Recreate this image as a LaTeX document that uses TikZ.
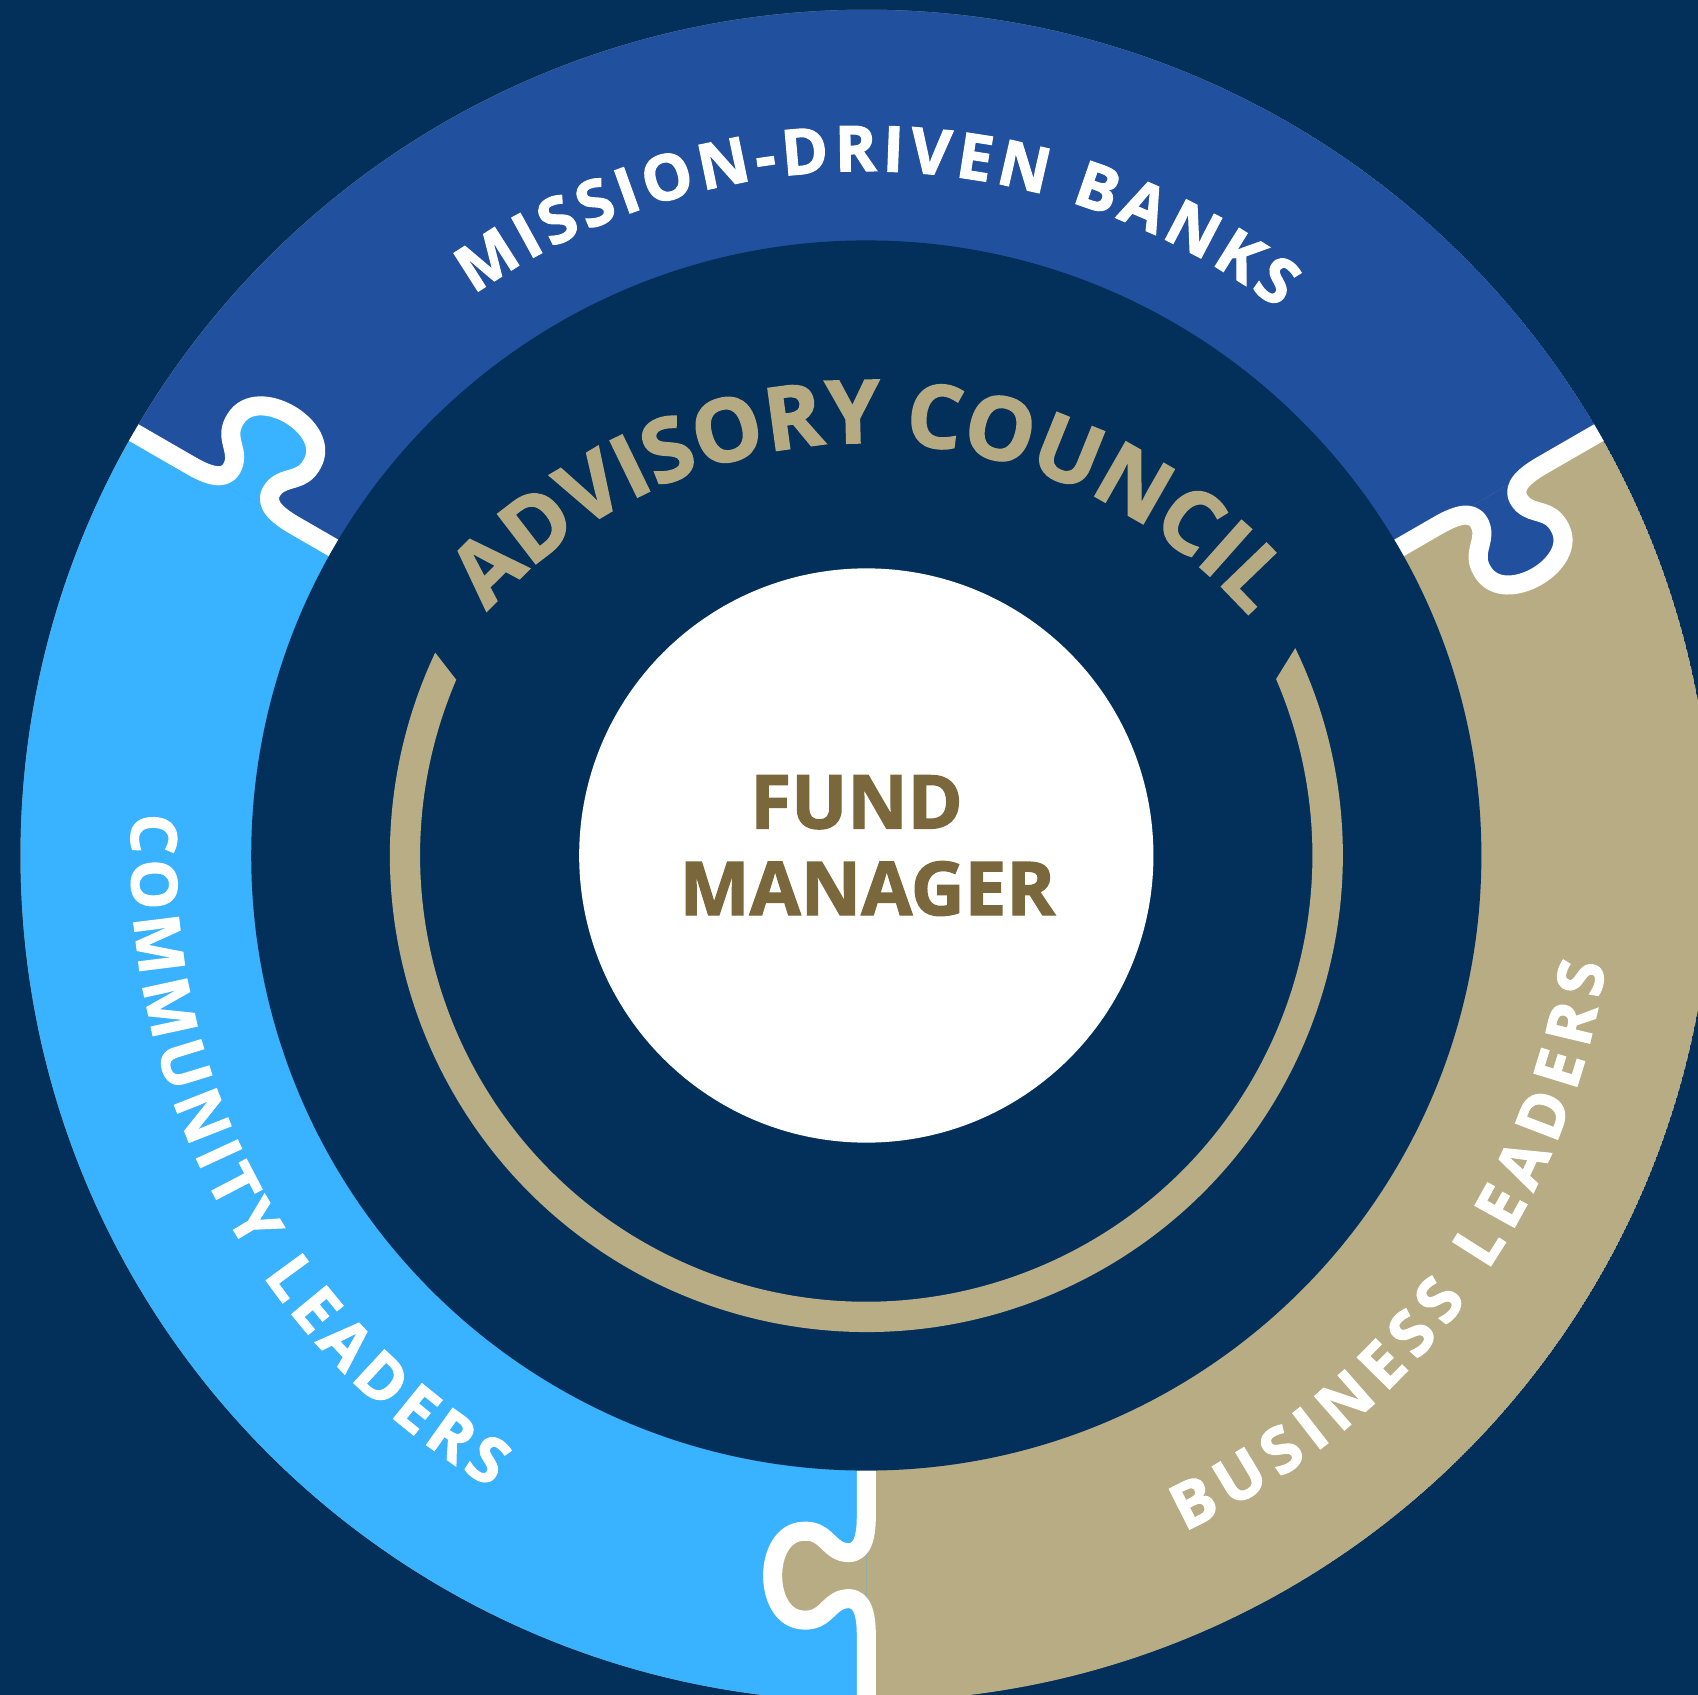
\documentclass[tikz,border=0pt]{standalone}
\usepackage{fontspec}
\setmainfont{Open Sans}
\newfontfamily\heavyfont{Open Sans}[BoldFeatures={FakeBold=1.8}]
\usetikzlibrary{decorations.text}
\definecolor{navy}{HTML}{03305A}
\definecolor{ringblue}{HTML}{21519E}
\definecolor{ringlight}{HTML}{39B3FF}
\definecolor{ringtan}{HTML}{B7AC83}
\definecolor{goldarc}{HTML}{B8AD85}
\definecolor{advcol}{HTML}{B5AA82}
\definecolor{fundcol}{HTML}{7A683C}
\newcommand{\ringfont}{\heavyfont\bfseries\fontsize{16.6}{20}\selectfont}
\newcommand{\advfont}{\heavyfont\bfseries\fontsize{23}{27}\selectfont}
\newcommand{\fundfont}{\heavyfont\bfseries\fontsize{19.5}{23}\selectfont}
\newcommand{\tabcurve}{.. controls (635,0) and (647,-6) .. (643,-22) .. controls (639,-36) and (623,-38) .. (624,-58) .. controls (625,-96) and (705,-96) .. (706,-58) .. controls (707,-38) and (691,-36) .. (687,-22) .. controls (683,-6) and (695,0) .. (720,0)}
\tikzset{
  sepline/.style={draw=white, line width=5pt, line join=round},
  fundtxt/.style={text=fundcol, font=\fundfont, inner sep=0pt},
  ringtext/.style={decorate, decoration={text along path, text color=white, text align=fit to path}},
}
\begin{document}
\begin{tikzpicture}[x=0.01cm, y=0.01cm]
\useasboundingbox (-800,-775) rectangle (768,790);
\fill[navy] (-800,-775) rectangle (768,790);
% outer ring pieces
\begin{scope}
  \clip (0,0) circle[radius=781];
  \fill[ringtan] (0,0) circle[radius=781];
  \fill[ringblue] (0,0) -- (30:900) arc[start angle=30, end angle=150, radius=900] -- cycle;
  \fill[ringlight] (0,0) -- (150:900) arc[start angle=150, end angle=270, radius=900] -- cycle;
  \begin{scope}[rotate=150]
    \fill[ringlight] (610,0) \tabcurve -- cycle;
  \end{scope}
  \begin{scope}[rotate=30]
    \fill[ringblue] (610,0) \tabcurve -- cycle;
  \end{scope}
  \begin{scope}[rotate=270]
    \fill[ringtan] (610,0) \tabcurve -- cycle;
  \end{scope}
  \foreach \a in {30,150,270}{
    \begin{scope}[rotate=\a]
      \draw[sepline] (520,0) -- (610,0) \tabcurve -- (820,0);
    \end{scope}
  }
\end{scope}
\fill[navy] (0,0) circle[radius=568];
% ring labels
\path[ringtext, decoration={text={|\ringfont|MISSION-DRIVEN BANKS}}]
  (125:632) arc[start angle=125, end angle=53, radius=632];
\path[ringtext, decoration={text={|\ringfont|COMMUNITY LEADERS}}]
  (176.7:679) arc[start angle=176.7, end angle=239.3, radius=679];
\path[ringtext, decoration={text={|\ringfont|BUSINESS LEADERS}}]
  (-64.8:690) arc[start angle=-64.8, end angle=-8.4, radius=690];
% gold arc
\fill[goldarc] (25.8:440) arc[start angle=25.8, end angle=-205.2, radius=440]
  -- (-203.2:412) arc[start angle=-203.2, end angle=23.3, radius=412] -- cycle;
% advisory council
\path[decorate, decoration={text along path, text color=advcol, text align=fit to path,
    text={|\advfont|ADVISORY COUNCIL}}]
  ([shift={(0,-90)}]138:471) arc[start angle=138, end angle=42.5, radius=471];
% fund manager
\node[circle, fill=white, minimum size=5.3cm, inner sep=0pt] (fm) at (0,0) {};
\node[fundtxt, anchor=base] (fund) at (-9,25) {FUND};
\node[fundtxt, anchor=base] (mgr) at (1,-55) {MANAGER};
\end{tikzpicture}
\end{document}
